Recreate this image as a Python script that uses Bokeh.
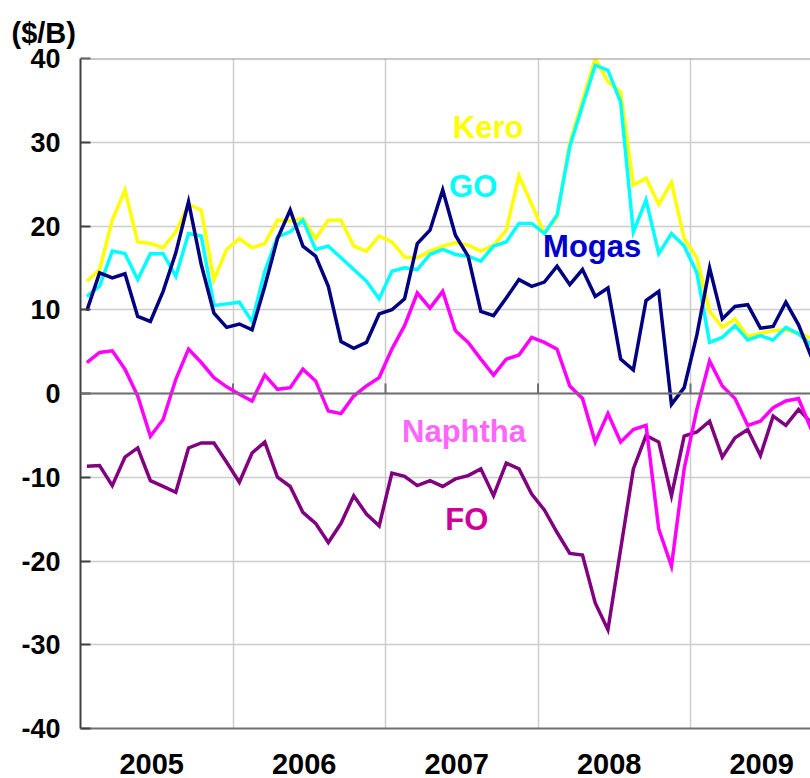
import numpy as np
from bokeh.plotting import figure
from bokeh.models import FixedTicker, Span
from bokeh.core.properties import value
from bokeh.embed import file_html
from bokeh.resources import INLINE

years = ["2005", "2006", "2007", "2008", "2009"]
y_ticks = [-40, -30, -20, -10, 0, 10, 20, 30, 40]
y_tick_labels = ["-40", "-30", "-20", "-10", "0", "10", "20", "30", "40"]
year_bounds = [12, 24, 36, 48]
unit_text = "($/B)"

kero = [13.4, 14.8, 20.7, 24.3, 18.1, 17.9, 17.4, 19.3, 22.6, 21.9, 13.6, 17.2,
        18.5, 17.4, 17.9, 20.7, 20.6, 20.9, 18.5, 20.7, 20.7, 17.6, 17.0, 18.8,
        18.1, 16.3, 16.2, 17.0, 17.6, 18.0, 17.7, 17.0, 17.7, 19.5, 26.0, 22.6,
        19.1, 21.1, 29.9, 35.0, 40.0, 37.2, 36.0, 24.9, 25.7, 22.6, 25.2, 18.5,
        16.2, 9.8, 7.9, 8.9, 6.8, 7.2, 7.5, 7.6, 7.2, 6.6]
go = [11.6, 12.8, 17.0, 16.7, 13.6, 16.7, 16.7, 14.0, 19.1, 18.8, 10.5, 10.7,
      10.9, 8.6, 14.6, 18.7, 19.3, 20.7, 17.2, 17.6, 16.2, 14.8, 13.4, 11.3,
      14.6, 15.0, 14.8, 16.6, 17.2, 16.6, 16.4, 15.8, 17.6, 18.1, 20.3, 20.3,
      19.1, 21.3, 29.5, 34.4, 39.2, 38.6, 34.8, 19.3, 23.1, 16.7, 19.1, 17.6,
      14.4, 6.1, 6.7, 8.1, 6.4, 6.9, 6.4, 7.9, 7.1, 5.8]
mogas = [9.9, 14.4, 13.8, 14.3, 9.2, 8.6, 12.2, 16.8, 22.9, 15.4, 9.6, 7.9,
         8.3, 7.6, 12.8, 18.5, 21.9, 17.6, 16.4, 12.8, 6.2, 5.4, 6.1, 9.5,
         10.0, 11.3, 17.9, 19.5, 24.3, 18.9, 16.4, 9.8, 9.3, 11.4, 13.6, 12.8,
         13.3, 15.2, 13.0, 14.8, 11.6, 12.6, 4.1, 2.8, 11.1, 12.2, -1.3, 0.7,
         7.0, 15.0, 8.9, 10.4, 10.6, 7.8, 8.0, 10.9, 8.2, 4.4]
naphtha = [3.7, 4.9, 5.1, 2.9, -0.3, -5.1, -3.1, 1.7, 5.3, 3.7, 1.9, 0.8,
           -0.1, -0.9, 2.2, 0.5, 0.7, 2.9, 1.5, -2.1, -2.4, -0.3, 0.9, 1.9,
           5.3, 8.1, 12.0, 10.2, 12.2, 7.5, 6.1, 4.1, 2.2, 4.1, 4.6, 6.7,
           6.1, 5.3, 0.9, -0.6, -5.8, -2.4, -5.8, -4.3, -3.8, -16.2, -20.6, -9.0,
           -1.9, 3.9, 0.9, -0.6, -3.8, -3.3, -1.7, -0.9, -0.6, -4.3]
fo = [-8.7, -8.6, -11.0, -7.6, -6.5, -10.4, -11.1, -11.8, -6.5, -5.9, -5.9, -8.2,
      -10.6, -7.1, -5.8, -10.0, -11.1, -14.2, -15.5, -17.8, -15.5, -12.2, -14.4, -15.8,
      -9.5, -9.9, -11.0, -10.4, -11.1, -10.2, -9.8, -9.0, -12.2, -8.3, -9.0, -12.0,
      -13.9, -16.6, -19.1, -19.3, -25.0, -28.2, -18.6, -9.0, -5.0, -5.8, -12.2, -5.1,
      -4.6, -3.3, -7.6, -5.3, -4.3, -7.4, -2.7, -3.8, -1.9, -3.5]

series_names = ["Kero", "GO", "Mogas", "FO", "Naphtha"]
series_values = [kero, go, mogas, fo, naphtha]
line_colors = ["#FFFF00", "#00FFFF", "#000080", "#800080", "#FF00FF"]

label_text = ["Kero", "GO", "Mogas", "Naphtha", "FO"]
label_x = [29.3, 29.0, 36.4, 25.3, 28.7]
label_y = [31.8, 24.7, 17.5, -4.5, -15.1]
label_colors = ["#FFFF00", "#00FFFF", "#0000CC", "#FF66FF", "#CC0099"]

x = [i + 0.5 for i in range(len(kero))]
FONT = "Liberation Sans"

p = figure(width=810, height=778, x_range=(0, 57.44), y_range=(-40, 40),
           output_backend="svg", toolbar_location=None,
           min_border_left=80, min_border_right=0, min_border_top=58,
           min_border_bottom=50)
p.outline_line_color = None
p.background_fill_color = "white"

p.title.text = unit_text
p.title.text_font = FONT
p.title.text_font_size = "29px"
p.title.text_font_style = "bold"
p.title.text_color = "black"
p.title.align = "left"
p.title.vertical_align = "top"
p.title.offset = -69
p.title.standoff = 15

# grids
p.ygrid.ticker = FixedTicker(ticks=y_ticks)
p.xgrid.ticker = FixedTicker(ticks=year_bounds)
p.grid.grid_line_color = "#cccccc"
p.grid.grid_line_width = 1.5

# y axis
p.yaxis.ticker = FixedTicker(ticks=y_ticks)
p.yaxis.major_label_overrides = dict(zip(y_ticks, y_tick_labels))
p.yaxis.major_tick_in = 10
p.yaxis.major_tick_out = 0
p.yaxis.minor_tick_line_color = None
p.yaxis.major_tick_line_color = "#404040"
p.yaxis.major_tick_line_width = 2
p.yaxis.axis_line_color = "#404040"
p.yaxis.axis_line_width = 2
p.yaxis.major_label_text_font = FONT
p.yaxis.major_label_text_font_size = "27px"
p.yaxis.major_label_text_font_style = "bold"
p.yaxis.major_label_text_color = "black"
p.yaxis.major_label_standoff = 20

# x axis: year labels
p.xaxis.ticker = FixedTicker(ticks=[12 * i + 5.6 for i in range(len(years))])
p.xaxis.major_label_overrides = {12 * i + 5.6: y for i, y in enumerate(years)}
p.xaxis.major_tick_line_color = None
p.xaxis.minor_tick_line_color = None
p.xaxis.axis_line_color = "#707070"
p.xaxis.axis_line_width = 2
p.xaxis.major_label_text_font = FONT
p.xaxis.major_label_text_font_size = "29px"
p.xaxis.major_label_text_font_style = "bold"
p.xaxis.major_label_text_color = "black"
p.xaxis.major_label_standoff = 19

# top border & zero line
p.add_layout(Span(location=y_ticks[-1], dimension="width", line_color="#909090", line_width=2))
p.add_layout(Span(location=0, dimension="width", line_color="#707070", line_width=2))
p.segment(x0=year_bounds, x1=year_bounds, y0=[0] * 4, y1=[1.2] * 4,
          line_color="#707070", line_width=2)

for name, vals, col in zip(series_names, series_values, line_colors):
    p.line(x, vals, line_color=col, line_width=3.5, line_join="miter")

p.text(x=label_x, y=label_y, text=label_text, text_color=label_colors,
       text_font=value(FONT), text_font_size="31px", text_font_style="bold",
       text_align="left", text_baseline="alphabetic")

open("out.html", "w").write(file_html(p, INLINE))
